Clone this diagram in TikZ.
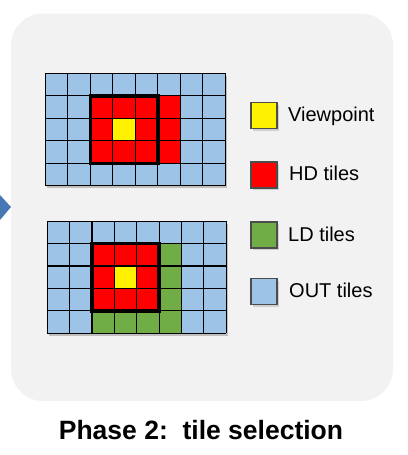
\documentclass[tikz,border=0pt]{standalone}
\usepackage{fontspec}
\setmainfont{Liberation Sans}
\usetikzlibrary{shadows}
\definecolor{bgc}{HTML}{F2F2F2}
\definecolor{tblue}{RGB}{157,195,230}
\definecolor{tgreen}{RGB}{112,173,71}
\definecolor{arrowc}{RGB}{70,120,180}
\tikzset{
  legsq/.style={draw=black!70, line width=1.2pt, minimum size=26pt, inner sep=0pt,
    drop shadow={shadow xshift=1.5pt, shadow yshift=-2pt, opacity=.3}},
  legtxt/.style={anchor=base west, inner sep=0pt, font=\fontsize{20}{24}\selectfont},
  gridln/.style={black, line width=1.1pt},
  thickbox/.style={black, line width=3.6pt},
}
\newcommand\tilegrid[1]{%
  \fill[black!25] (1.5,2.5) rectangle (8*#1+1.5,5*#1+2.5);
  \fill[tblue] (0,0) rectangle (8*#1,5*#1);
}
\newcommand\gridlines[1]{%
  \foreach \i in {0,...,8} \draw[gridln] (\i*#1,0) -- (\i*#1,5*#1);
  \foreach \j in {0,...,5} \draw[gridln] (0,\j*#1) -- (8*#1,\j*#1);
}
\begin{document}
\begin{tikzpicture}[x=1pt,y=-1pt]
\useasboundingbox (0,0) rectangle (407,455);
% background panel
\fill[bgc, rounded corners=32pt] (11,13.5) rectangle (393,401);
% incoming arrow tip
\fill[arrowc] (0,195) -- (11,207) -- (0,220) -- cycle;
% top grid
\begin{scope}[shift={(45.3,73.3)}]
  \def\tc{22.5}
  \tilegrid{\tc}
  \fill[red] (2*\tc,1*\tc) rectangle (6*\tc,4*\tc);
  \fill[yellow] (3*\tc,2*\tc) rectangle (4*\tc,3*\tc);
  \gridlines{\tc}
  \draw[thickbox] (2*\tc,1*\tc) rectangle (5*\tc,4*\tc);
\end{scope}
% bottom grid
\begin{scope}[shift={(47.3,221.3)}]
  \def\tc{22.35}
  \tilegrid{\tc}
  \fill[red] (2*\tc,1*\tc) rectangle (5*\tc,4*\tc);
  \fill[yellow] (3*\tc,2*\tc) rectangle (4*\tc,3*\tc);
  \fill[tgreen] (5*\tc,1*\tc) rectangle (6*\tc,5*\tc);
  \fill[tgreen] (2*\tc,4*\tc) rectangle (5*\tc,5*\tc);
  \gridlines{\tc}
  \draw[thickbox] (2*\tc,1*\tc) rectangle (5*\tc,4*\tc);
\end{scope}
% legend
\node[legsq, fill=yellow] (kv) at (264,115.5) {};
\node[legsq, fill=red] (kh) at (264,175) {};
\node[legsq, fill=tgreen] (kl) at (264,235) {};
\node[legsq, fill=tblue] (ko) at (264,291.5) {};
\node[legtxt] (tv) at (288,121.7) {Viewpoint};
\node[legtxt] (th) at (289,180.5) {HD tiles};
\node[legtxt] (tl) at (288,241.7) {LD tiles};
\node[legtxt] (to) at (289,297.7) {OUT tiles};
% title
\node[anchor=base, inner sep=0pt, font=\bfseries\fontsize{26.5}{30}\selectfont] (title) at (201,439) {Phase 2:\ \ tile selection};
\end{tikzpicture}
\end{document}
